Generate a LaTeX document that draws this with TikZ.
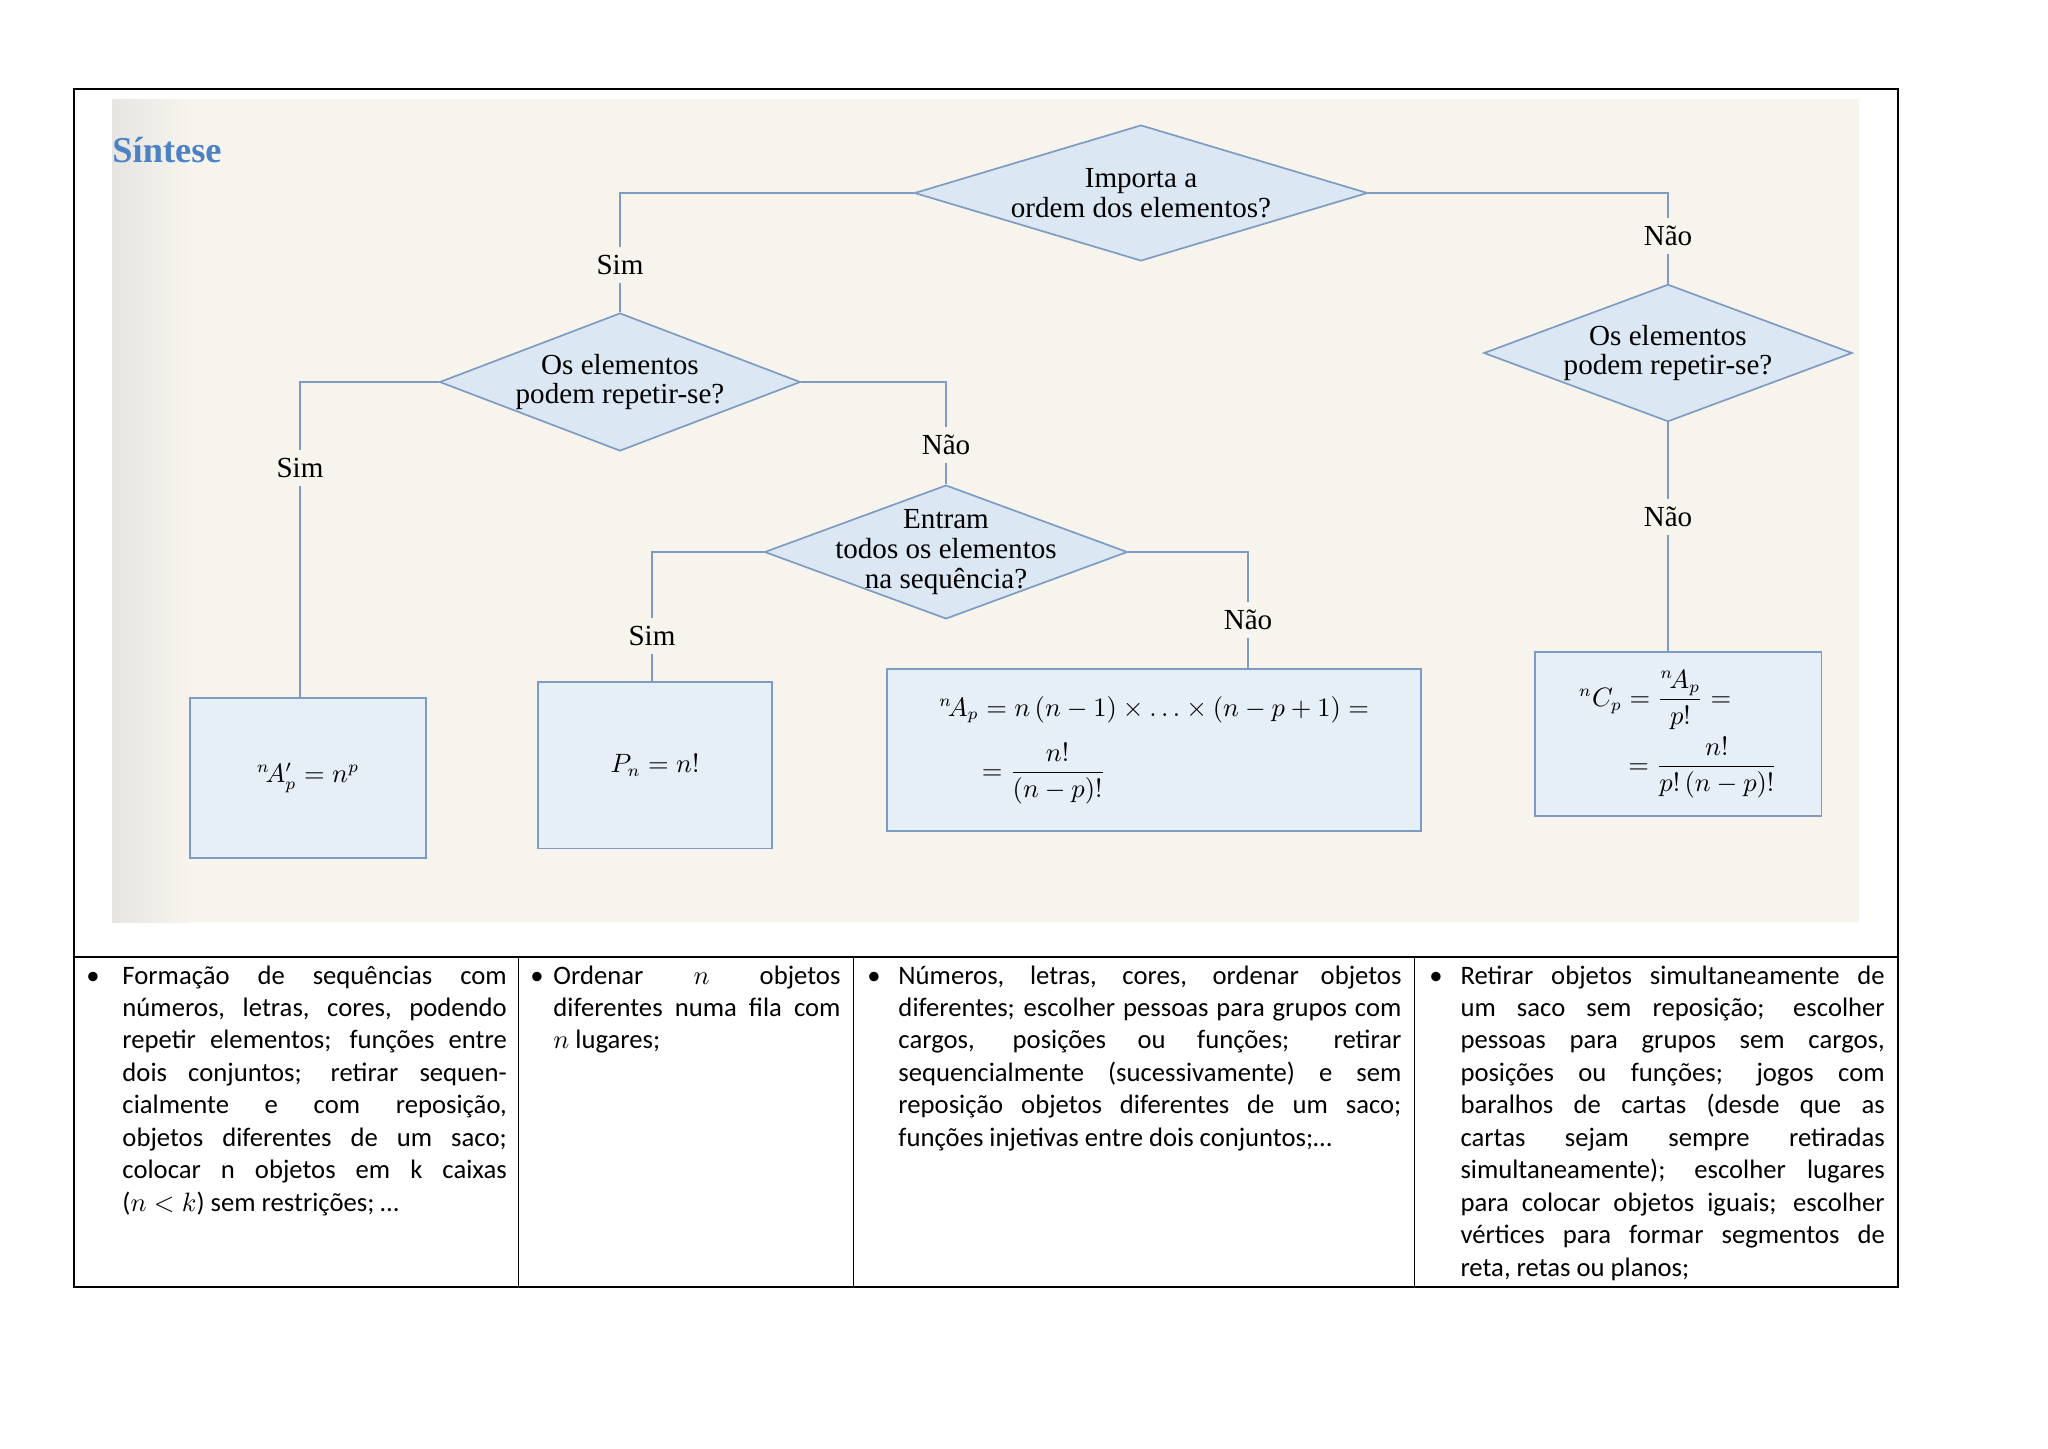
\documentclass[tikz,border=0pt]{standalone}
\usepackage{amsmath}
\usepackage{fontspec}
\setmainfont{Liberation Serif}
\newfontfamily\cellfont{Carlito}
\usetikzlibrary{shapes.geometric,positioning,calc}
\definecolor{photobg}{HTML}{F7F4ED}
\definecolor{photoleft}{HTML}{E6E5E2}
\definecolor{diamcol}{HTML}{DCE7F4}
\definecolor{boxcol}{HTML}{E6EEF8}
\definecolor{linecol}{HTML}{7E9CC2}
\definecolor{titlecol}{HTML}{4C82C3}

\begin{document}
\begin{tikzpicture}[x=0.0145cm, y=-0.0145cm,
  question/.style={diamond, draw=linecol, fill=diamcol, line width=0.7pt, inner sep=-0.3cm,
                   shape aspect=3, align=center, font=\fontsize{12}{12.3}\selectfont},
  result/.style={draw=linecol, fill=boxcol, line width=0.8pt, inner sep=0pt, align=left,
                 font=\fontsize{10.5}{13}\selectfont},
  answer/.style={inner sep=3pt, font=\fontsize{12}{12.3}\selectfont},
  link/.style={draw=linecol, line width=0.8pt},
  cell/.style={font=\cellfont\fontsize{11}{13.4}\selectfont, align=justify,
               anchor=base west, inner sep=0pt, text width=#1},
  dot/.style={font=\cellfont\fontsize{11}{13.4}\selectfont, anchor=base, inner sep=0pt}]
  \useasboundingbox (0,0) rectangle (2048,1448);
  \fill[white] (0,0) rectangle (2048,1448);
  % photo of the flowchart
  \fill[photobg] (112,99) rectangle (1859,922);
  \shade[left color=photoleft, right color=photobg] (112,99) rectangle (190,922);
  \node[font=\bfseries\fontsize{15}{15}\selectfont, text=titlecol, anchor=west, inner sep=0pt]
    (title) at (112,150) {Síntese};

  \node[question, minimum width=6.57cm, minimum height=1.97cm] (imp)    at (1141,193) {Importa a\\ordem dos elementos?};
  \node[question, minimum width=5.23cm, minimum height=2.0cm]  (repsim) at (620,382)  {Os elementos\\podem repetir-se?};
  \node[question, minimum width=5.26cm, minimum height=1.94cm] (todos)  at (946,552)  {Entram\\todos os elementos\\na sequência?};
  \node[question, minimum width=5.34cm, minimum height=1.99cm] (repnao) at (1668,353) {Os elementos\\podem repetir-se?};

  \node[answer] (simA) at (620,265)  {Sim};
  \node[answer] (naoA) at (1668,236) {Não};
  \node[answer] (simB) at (300,468)  {Sim};
  \node[answer] (naoB) at (946,445)  {Não};
  \node[answer] (simC) at (652,636)  {Sim};
  \node[answer] (naoC) at (1248,620) {Não};
  \node[answer] (naoD) at (1668,517) {Não};

  \node[result, minimum width=3.41cm, minimum height=2.31cm] (arrrep) at (308,778)  {${}^{n}\!A'_{p}=n^{p}$};
  \node[result, minimum width=3.38cm, minimum height=2.42cm] (perm)   at (655,765)  {$P_{n}=n!$};
  \node[result, minimum width=7.74cm, minimum height=2.35cm] (arr)    at (1154,750)
    {${}^{n}\!A_{p}=n\,(n-1)\times\ldots\times(n-p+1)=$\\[7pt]
     \hspace*{0.62cm}$=\dfrac{n!}{(n-p)!}$};
  \node[result, minimum width=4.16cm, minimum height=2.38cm] (comb)   at (1678,734)
    {${}^{n}C_{p}=\dfrac{{}^{n}\!A_{p}}{p!}=$\\[2pt]
     \hspace*{0.72cm}$=\dfrac{n!}{p!\,(n-p)!}$};

  \draw[link] (imp.west) -| (simA);
  \draw[link] (simA) -- (repsim.north);
  \draw[link] (imp.east) -| (naoA);
  \draw[link] (naoA) -- (repnao.north);
  \draw[link] (repsim.west) -| (simB);
  \draw[link] (simB) -- (simB |- arrrep.north);
  \draw[link] (repsim.east) -| (naoB);
  \draw[link] (naoB) -- (todos.north);
  \draw[link] (todos.west) -| (simC);
  \draw[link] (simC) -- (simC |- perm.north);
  \draw[link] (todos.east) -| (naoC);
  \draw[link] (naoC) -- (naoC |- arr.north);
  \draw[link] (repnao.south) -- (naoD);
  \draw[link] (naoD) -- (naoD |- comb.north);

  % table
  \draw[line width=0.8pt] (74,89) rectangle (1898,1287);
  \draw[line width=0.8pt] (74,957) -- (1898,957);
  \foreach \xs in {518.5,853.5,1414.5}
    \draw[line width=0.8pt] (\xs,957) -- (\xs,1287);

  \node[dot] (dotA) at (93,984)   {•};
  \node[dot] (dotB) at (537,984)  {•};
  \node[dot] (dotC) at (874,984)  {•};
  \node[dot] (dotD) at (1436,984) {•};

  \node[cell=5.57cm] (usoA) at (122,984) {Formação de sequências com\linebreak
    números, letras, cores, podendo\linebreak repetir elementos; funções entre\linebreak
    dois conjuntos; retirar sequen-\linebreak cialmente e com reposição,\linebreak
    objetos diferentes de um saco;\linebreak colocar n objetos em k caixas\linebreak
    ($n<k$) sem restrições; …};
  \node[cell=4.16cm] (usoB) at (553,984) {Ordenar $n$ objetos\linebreak
    diferentes numa fila com\linebreak $n$ lugares;};
  \node[cell=7.29cm] (usoC) at (898,984) {Números, letras, cores, ordenar objetos\linebreak
    diferentes; escolher pessoas para grupos com\linebreak cargos, posições ou funções; retirar\linebreak
    sequencialmente (sucessivamente) e sem\linebreak reposição objetos diferentes de um saco;\linebreak
    funções injetivas entre dois conjuntos;…};
  \node[cell=6.15cm] (usoD) at (1460,984) {Retirar objetos simultaneamente de\linebreak
    um saco sem reposição; escolher\linebreak pessoas para grupos sem cargos,\linebreak
    posições ou funções; jogos com\linebreak baralhos de cartas (desde que as\linebreak
    cartas sejam sempre retiradas\linebreak simultaneamente); escolher lugares\linebreak
    para colocar objetos iguais; escolher\linebreak vértices para formar segmentos de\linebreak
    reta, retas ou planos;};
\end{tikzpicture}
\end{document}
